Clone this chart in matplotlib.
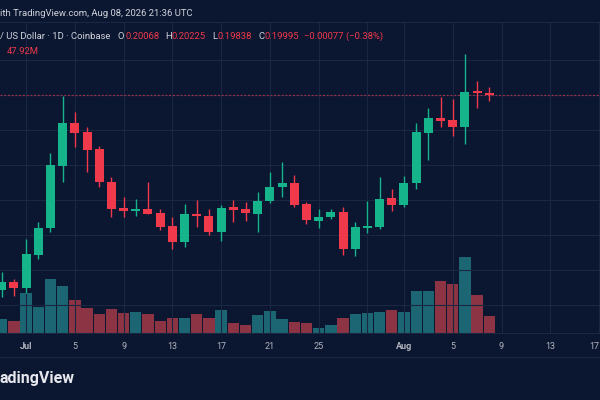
import matplotlib.pyplot as plt
import numpy as np
import pandas as pd

# daily candles, Jun 29 .. Aug 8
dates = pd.date_range('2026-06-29', '2026-08-08', freq='D')
opens = [0.1443, 0.1465, 0.1448, 0.1543, 0.1619, 0.1798, 0.1921, 0.1893, 0.1845, 0.1752,
         0.1676, 0.1669, 0.1673, 0.1662, 0.1626, 0.1580, 0.1660, 0.1655, 0.1609, 0.1679,
         0.1675, 0.1661, 0.1698, 0.1738, 0.1749, 0.1689, 0.1641, 0.1652, 0.1665, 0.1560,
         0.1621, 0.1622, 0.1705, 0.1686, 0.1748, 0.1892, 0.1934, 0.1928, 0.1909, 0.2011,
         0.20068]
highs = [0.1494, 0.1474, 0.1589, 0.1637, 0.1834, 0.1996, 0.1951, 0.1908, 0.1854, 0.1767,
         0.1708, 0.1703, 0.1751, 0.1673, 0.1651, 0.1688, 0.1700, 0.1673, 0.1686, 0.1700,
         0.1693, 0.1722, 0.1779, 0.1809, 0.1771, 0.1695, 0.1674, 0.1673, 0.1679, 0.1638,
         0.1697, 0.1767, 0.1731, 0.1769, 0.1921, 0.1962, 0.1995, 0.1988, 0.2116, 0.2039,
         0.20225]
lows = [0.1423, 0.1427, 0.1434, 0.1531, 0.1609, 0.1752, 0.1852, 0.1781, 0.1736, 0.1651,
        0.1652, 0.1655, 0.1660, 0.1614, 0.1559, 0.1567, 0.1624, 0.1601, 0.1583, 0.1638,
        0.1641, 0.1609, 0.1691, 0.1709, 0.1681, 0.1631, 0.1619, 0.1646, 0.1543, 0.1540,
        0.1607, 0.1617, 0.1669, 0.1681, 0.1731, 0.1814, 0.1908, 0.1884, 0.1859, 0.1964,
        0.19838]
closes = [0.1467, 0.1448, 0.1545, 0.1619, 0.1800, 0.1920, 0.1892, 0.1842, 0.1751, 0.1673,
          0.1669, 0.1673, 0.1661, 0.1623, 0.1579, 0.1660, 0.1654, 0.1609, 0.1678, 0.1671,
          0.1662, 0.1698, 0.1738, 0.1749, 0.1686, 0.1643, 0.1652, 0.1665, 0.1560, 0.1622,
          0.1626, 0.1702, 0.1686, 0.1748, 0.1893, 0.1933, 0.1925, 0.1909, 0.2009, 0.2006,
          0.19995]
volumes = [38.2, 33.2, 111.6, 72.9, 150.1, 130.2, 91.4, 70.6, 51.8, 65.6,
           54.6, 58.2, 54.0, 32.4, 41.6, 41.6, 52.6, 40.7, 63.7, 26.9,
           21.3, 50.7, 61.5, 37.9, 30.5, 26.9, 13.9, 21.3, 40.7, 52.6,
           54.6, 58.2, 63.7, 57.6, 115.5, 115.5, 144.0, 134.9, 209.7, 104.4,
           47.92]  # millions

tick_dates = ['2026-07-01', '2026-07-05', '2026-07-09', '2026-07-13', '2026-07-17',
              '2026-07-21', '2026-07-25', '2026-08-01', '2026-08-05', '2026-08-09',
              '2026-08-13', '2026-08-17']
tick_labels = ['Jul', '5', '9', '13', '17', '21', '25', 'Aug', '5', '9', '13', '17']
extra_grid_dates = ['2026-07-29']
price_grid = [0.14, 0.15, 0.16, 0.17, 0.18, 0.19, 0.20, 0.21]

BG = '#0b1631'
GRID = '#1a2742'
UP = '#15b48a'
DOWN = '#f0394a'
VOL_UP = '#1c6674'
VOL_DOWN = '#8c3443'
TXT = '#d1d4dc'
AXTXT = '#b2b5be'

plt.rcParams['font.family'] = ['Roboto', 'DejaVu Sans']

x = np.array((dates - dates[0]).days, dtype=float)
tx = [(pd.Timestamp(d) - dates[0]).days for d in tick_dates]
gx = tx + [(pd.Timestamp(d) - dates[0]).days for d in extra_grid_dates]

fig = plt.figure(figsize=(6, 4), dpi=100, facecolor=BG)
rect = [0, 1 - 333 / 400, 1, 311 / 400]

# volume pane (behind)
axv = fig.add_axes(rect)
axv.set_facecolor(BG)
vcol = [VOL_UP if c >= o else VOL_DOWN for o, c in zip(opens, closes)]
axv.bar(x, volumes, width=0.93, color=vcol, linewidth=0)
axv.set_ylim(0, 861.5)
axv.set_xlim(-0.14, 49.08)
axv.axis('off')

# price pane
ax = fig.add_axes(rect, sharex=axv)
ax.patch.set_visible(False)
for gy in price_grid:
    ax.axhline(gy, color=GRID, lw=0.8, zorder=0)
for g in gx:
    ax.axvline(g, color=GRID, lw=0.8, zorder=0)

for xi, o, h, l, c in zip(x, opens, highs, lows, closes):
    col = UP if c >= o else DOWN
    ax.vlines(xi, l, h, color=col, lw=1.0, zorder=2)
    body = max(abs(c - o), 0.00035)
    ax.bar(xi, body, bottom=min(o, c), width=0.74, color=col, linewidth=0, zorder=3)

# last price line
ax.axhline(closes[-1], color=DOWN, lw=0.9, ls=(0, (1.5, 1.5)), alpha=0.6, zorder=1)

ax.set_ylim(0.132, 0.220857)
ax.set_xlim(-0.14, 49.08)
ax.set_yticks([])
ax.set_xticks(tx)
ax.set_xticklabels(tick_labels)
ax.tick_params(axis='x', length=0, pad=6.5, labelsize=6.5, labelcolor=AXTXT)
labs = ax.get_xticklabels()
for lab in labs:
    if lab.get_text() in ('Jul', 'Aug'):
        lab.set_fontweight('bold')
labs[-1].set_horizontalalignment('right')
for side in ('left', 'right'):
    ax.spines[side].set_visible(False)
ax.spines['top'].set_color(GRID)
ax.spines['bottom'].set_color(GRID)

# lower separator and logo
fig.add_artist(plt.Line2D([0, 1], [1 - 357 / 400] * 2, color=GRID, lw=1,
                          transform=fig.transFigure))
fig.text(0, 1 - 379 / 400, 'adingView', color='#e6e8ee', fontsize=11.5,
         fontweight='bold', va='center', ha='left')

# header texts
def ftxt(px, py, s, color, **kw):
    fig.text(px / 600, 1 - py / 400, s, color=color, va='center', ha='left',
             fontsize=6.8, **kw)

ftxt(0, 13.3, 'ith TradingView.com, Aug 08, 2026 21:36 UTC', TXT)
ftxt(0, 36.7, '/ US Dollar · 1D · Coinbase', TXT)
ftxt(118, 36.7, 'O', TXT)
ftxt(125.3, 36.7, '%.5f' % opens[-1], DOWN)
ftxt(165.7, 36.7, 'H', TXT)
ftxt(171.7, 36.7, '%.5f' % highs[-1], DOWN)
ftxt(212.3, 36.7, 'L', TXT)
ftxt(217.3, 36.7, '%.5f' % lows[-1], DOWN)
ftxt(258.3, 36.7, 'C', TXT)
ftxt(264.3, 36.7, '%.5f' % closes[-1], DOWN)
ftxt(304, 36.7, '\u22120.00077 (\u22120.38%)', DOWN)
ftxt(7.3, 51.7, '%.2fM' % volumes[-1], DOWN)

fig.savefig('out.png', dpi=100, facecolor=BG)
